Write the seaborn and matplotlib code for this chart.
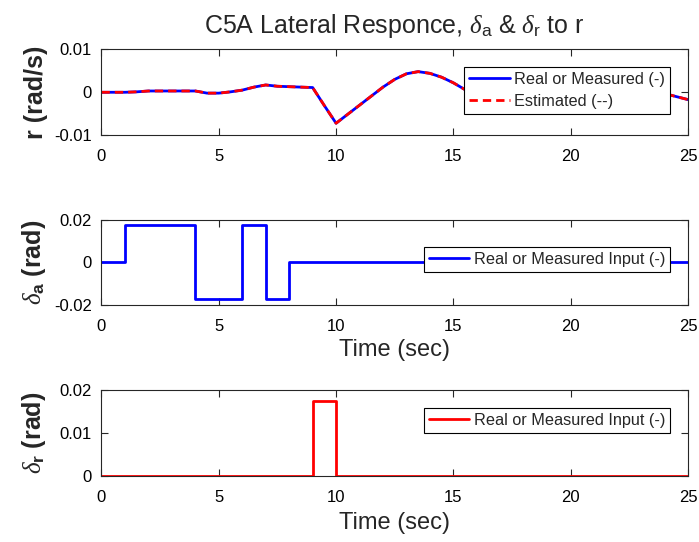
import matplotlib
matplotlib.use("Agg")
import matplotlib.pyplot as plt
import pandas as pd
import seaborn as sns

# time base for the yaw-rate response (s)
T_R = [0, 0.5, 1, 1.5, 2, 2.5, 3, 3.5, 4, 4.5, 5, 5.5, 6, 6.5, 7, 7.5, 8, 8.5, 9, 9.5,
       10, 10.5, 11, 11.5, 12, 12.5, 13, 13.5, 14, 14.5, 15, 15.5, 16, 16.5, 17, 17.5,
       18, 18.5, 19, 19.5, 20, 20.5, 21, 21.5, 22, 22.5, 23, 23.5, 24, 24.5, 25]
# yaw rate r (rad/s)
R_MEAS = [0.0, 0.0, 0.0, 0.0001, 0.0003, 0.0003, 0.0003, 0.0003, 0.0003, -0.0002,
          -0.0002, 0.0001, 0.0005, 0.0012, 0.0017, 0.0014, 0.0013, 0.0012, 0.0011, -0.0031,
          -0.0072, -0.0051, -0.0030, -0.0009, 0.0012, 0.0030, 0.0043, 0.0048, 0.0044, 0.0035,
          0.0022, 0.0006, -0.0009, -0.0021, -0.0030, -0.0034, -0.0033, -0.0028, -0.0019, -0.0008,
          0.0003, 0.0012, 0.0018, 0.0020, 0.0018, 0.0013, 0.0008, 0.0003, -0.0003, -0.0010,
          -0.0017]
R_EST = [0.0, 0.0, 0.0, 0.0001, 0.0003, 0.0003, 0.0003, 0.0003, 0.0003, -0.0002,
         -0.0002, 0.0001, 0.0005, 0.0012, 0.0017, 0.0014, 0.0013, 0.0012, 0.0011, -0.0031,
         -0.0072, -0.0051, -0.0030, -0.0009, 0.0012, 0.0030, 0.0043, 0.0048, 0.0044, 0.0035,
         0.0022, 0.0006, -0.0009, -0.0021, -0.0030, -0.0034, -0.0033, -0.0028, -0.0019, -0.0008,
         0.0003, 0.0012, 0.0018, 0.0020, 0.0018, 0.0013, 0.0008, 0.0003, -0.0003, -0.0010,
         -0.0017]

# aileron doublet input (rad), step changes
T_DA = [0, 1, 4, 6, 7, 8, 25]
DA = [0.0, 0.01745, -0.01745, 0.01745, -0.01745, 0.0, 0.0]

# rudder pulse input (rad), step changes
T_DR = [0, 9, 10, 25]
DR = [0.0, 0.01745, 0.0, 0.0]

XTICKS = [0, 5, 10, 15, 20, 25]

sns.set_style("ticks")
plt.rcParams["font.family"] = ["Liberation Sans", "DejaVu Sans"]
plt.rcParams["mathtext.fontset"] = "custom"
plt.rcParams["mathtext.rm"] = "Liberation Sans"
plt.rcParams["mathtext.bf"] = "Liberation Sans:bold"
plt.rcParams["mathtext.it"] = "Liberation Serif:italic"
plt.rcParams["axes.unicode_minus"] = False
plt.rcParams["axes.edgecolor"] = "#262626"
plt.rcParams["axes.linewidth"] = 0.8

fig = plt.figure(figsize=(6.99, 5.42), dpi=100)
ax1 = fig.add_axes([0.1452, 0.7504, 0.839, 0.1587])
ax2 = fig.add_axes([0.1452, 0.4378, 0.839, 0.1563])
ax3 = fig.add_axes([0.1452, 0.1218, 0.839, 0.1587])

df_r = pd.DataFrame({"t": T_R, "meas": R_MEAS, "est": R_EST})
df_a = pd.DataFrame({"t": T_DA, "da": DA})
df_d = pd.DataFrame({"t": T_DR, "dr": DR})

sns.lineplot(data=df_r, x="t", y="meas", ax=ax1, color="blue", lw=2,
             label="Real or Measured (-)", estimator=None)
sns.lineplot(data=df_r, x="t", y="est", ax=ax1, color="red", lw=2,
             linestyle=(0, (3, 1.8)), label="Estimated (--)", estimator=None)
sns.lineplot(data=df_a, x="t", y="da", ax=ax2, color="blue", lw=2,
             drawstyle="steps-post", label="Real or Measured Input (-)", estimator=None)
sns.lineplot(data=df_d, x="t", y="dr", ax=ax3, color="red", lw=2,
             drawstyle="steps-post", label="Real or Measured Input (-)", estimator=None)

ax1.set_ylim(-0.01, 0.01)
ax1.set_yticks([-0.01, 0, 0.01], ["-0.01", "0", "0.01"])
ax2.set_ylim(-0.02, 0.02)
ax2.set_yticks([-0.02, 0, 0.02], ["-0.02", "0", "0.02"])
ax3.set_ylim(0, 0.02)
ax3.set_yticks([0, 0.01, 0.02], ["0", "0.01", "0.02"])

legend_tops = [0.794, 0.681, 0.79]
for ax, top in zip((ax1, ax2, ax3), legend_tops):
    ax.set_xlim(0, 25)
    ax.set_xticks(XTICKS, [str(x) for x in XTICKS])
    ax.tick_params(axis="both", direction="in", length=5, width=0.8, labelsize=12,
                   top=True, right=True, colors="#262626", labelcolor="black")
    ax.tick_params(axis="x", pad=10)
    ax.tick_params(axis="y", pad=7)
    for side in ("top", "right"):
        ax.spines[side].set_visible(True)
    ax.set_xlabel("")
    leg = ax.legend(loc="upper right", bbox_to_anchor=(0.969, top), fontsize=11.7,
                    frameon=True, fancybox=False, framealpha=1, edgecolor="black",
                    handlelength=2.5, handletextpad=0.25, labelspacing=0.45,
                    borderpad=0.3, borderaxespad=0)
    leg.get_frame().set_linewidth(0.8)
    ax.yaxis.set_label_coords(-0.091, 0.5)

ax1.set_ylabel("r (rad/s)", fontsize=18, fontweight="bold")
ax2.set_ylabel(r"$\delta_{\mathbf{a}}$ (rad)", fontsize=18, fontweight="bold")
ax3.set_ylabel(r"$\delta_{\mathbf{r}}$ (rad)", fontsize=18, fontweight="bold")
ax2.set_xlabel("Time (sec)", fontsize=17, labelpad=4)
ax3.set_xlabel("Time (sec)", fontsize=17, labelpad=5)
ax1.set_title(r"C5A Lateral Responce, $\delta_{\mathrm{a}}$ & $\delta_{\mathrm{r}}$ to r",
              fontsize=18, pad=12)

fig.savefig("out.png", dpi=100)
plt.close(fig)
